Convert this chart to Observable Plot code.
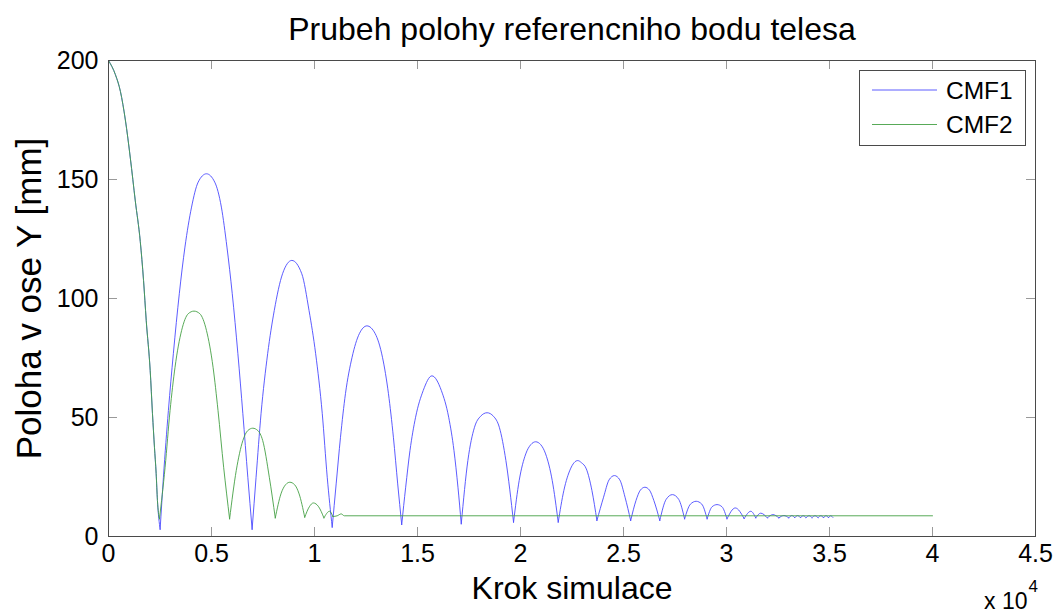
<!DOCTYPE html>
<html>
<head>
<meta charset="utf-8">
<script src="https://cdn.jsdelivr.net/npm/d3@7"></script>
<script src="https://cdn.jsdelivr.net/npm/@observablehq/plot@0.6"></script>
<style>
  html, body { margin: 0; padding: 0; background: #fff; }
</style>
</head>
<body>
<div id="chart"></div>
<script>
// ---- data ----
// common initial fall of both bodies
const fallX = [0, 337, 578, 819, 1060, 1301, 1542, 1701, 1831, 2024, 2135, 2231, 2313, 2376];
const fallY = [200, 194, 187, 175, 159, 141, 124, 107.6, 90.8, 69.7, 51.6, 37.5, 26.5, 15.1];

// CMF1 (blue) after first impact
const cmf1X = [2506, 2666, 2907, 3148, 3437, 3711, 4032, 4353, 4756, 5157, 5479, 5750, 6008, 6281, 6522, 6763, 6972,
  7164, 7405, 7726, 8048, 8449, 8900, 9382, 9734, 10056, 10377, 10618, 10859,
  11052, 11262, 11503, 11824, 12176, 12546, 12948, 13300, 13590, 13830, 14039, 14233,
  14426, 14635, 14907, 15276, 15700, 16159, 16514, 16771, 16964, 17124,
  17445, 17767, 18060, 18377, 18690, 18972, 19291, 19662,
  19936, 20255, 20500, 20738, 20980, 21219, 21541, 21831,
  22104, 22425, 22600, 22778, 22960, 23196, 23468, 23709,
  24032, 24300, 24561, 24820, 25075, 25348,
  25606, 25820, 26039, 26260, 26474, 26762,
  27070, 27374, 27680, 27966, 28250, 28528, 28800, 29059, 29300, 29541, 29780, 30023, 30425, 30856, 31179, 31420, 31661, 31983, 32253, 32542, 32783, 33025,
  33170, 33314, 33450, 33589, 33726, 33863, 34008, 34152, 34297, 34441, 34576, 34711, 34832, 34952, 35058, 35164];
const cmf1Y = [3, 24.9, 52.9, 76.8, 102, 121.6, 138.4, 148.9, 152.4, 148.9, 138.4, 121.6, 102, 76.8, 51.6, 24.9, 3,
  24.9, 51.6, 76.8, 95, 110.4, 116, 110.4, 95, 76.8, 51.6, 24.9, 3.9,
  22.1, 41.7, 60, 75.3, 85.2, 88.5, 85.2, 75.3, 60, 41.7, 22.1, 5,
  20.7, 36.1, 50.1, 61.3, 67.5, 61.3, 50.1, 36.1, 20.7, 5.3,
  31.9, 45.9, 50.5, 52, 50.5, 45.9, 31.9, 6,
  23.5, 34.7, 38.6, 39.8, 38.6, 34.7, 23.5, 6,
  19.3, 28.4, 31, 31.9, 31, 28.4, 19.3, 6.7,
  16.5, 23.8, 25.6, 23.8, 16.5, 6.7,
  15.1, 19.5, 20.7, 19.5, 15.1, 6.7,
  15.6, 17.6, 15.6, 7.4, 13.6, 14.8, 13.6, 7.4, 12.5, 13.4, 12.5, 7.4, 12, 7.5, 10.6, 7.8, 9.8, 7.8, 9.2, 7.8, 8.8, 7.8,
  8.8, 7.9, 8.8, 7.9, 8.7, 7.9, 8.7, 7.9, 8.7, 7.9, 8.7, 7.9, 8.7, 7.9, 8.7, 8];

// CMF2 (green) after first impact
const cmf2X = [2474, 2747, 2988, 3229, 3550, 3871, 4150, 4434, 4755, 5076, 5317, 5590, 5879,
  6201, 6522, 6760, 7004, 7250, 7486, 7807, 8096,
  8371, 8600, 8803, 9030, 9253, 9526,
  9750, 9944, 10200, 10458, 10730, 10891, 11100, 11296, 11450, 40000];
const cmf2Y = [7.4, 29.1, 52.9, 71.1, 86.6, 93.6, 94.7, 93.6, 86.6, 71.1, 52.9, 29.1, 7.4,
  27.7, 40.3, 44.5, 45.5, 44.5, 40.3, 24.9, 7.8,
  17.9, 21.8, 22.8, 21.8, 17.9, 8.1,
  12.5, 14.1, 12.5, 7.8, 10.6, 8.4, 8.7, 9.5, 8.7, 8.7];

const seriesNames = ["CMF1", "CMF2"];
const seriesColors = ["#4a4aff", "#45a045"];

const xTicks = [0, 5000, 10000, 15000, 20000, 25000, 30000, 35000, 40000, 45000];
const xTickLabels = ["0", "0.5", "1", "1.5", "2", "2.5", "3", "3.5", "4", "4.5"];
const yTicks = [0, 50, 100, 150, 200];

const titleText = "Prubeh polohy referencniho bodu telesa";
const xLabelText = "Krok simulace";
const yLabelText = "Poloha v ose Y [mm]";

// ---- build table: split each series into bounce arcs at its impacts ----
const rows = [];
[[cmf1X, cmf1Y], [cmf2X, cmf2Y]].forEach(([xs0, ys0], i) => {
  const xs = fallX.concat(xs0), ys = fallY.concat(ys0);
  const name = seriesNames[i];
  let seg = 0;
  xs.forEach((x, j) => {
    rows.push({series: name, seg: name + "-" + seg, x, y: ys[j]});
    const isMin = j > 0 && j < xs.length - 1 && ys[j] < ys[j - 1] && ys[j] < ys[j + 1];
    if (isMin) {
      seg++;
      rows.push({series: name, seg: name + "-" + seg, x, y: ys[j]});
    }
  });
});

// ---- layout ----
const W = 1063, H = 615;
const mL = 108, mR = 28, mT = 60, mB = 79;
const innerW = W - mL - mR, innerH = H - mT - mB;
const font = "'Liberation Sans', Arial, Helvetica, sans-serif";
const tickLen = 9;

const plot = Plot.plot({
  width: W, height: H,
  marginLeft: mL, marginRight: mR, marginTop: mT, marginBottom: mB,
  style: {fontFamily: font, background: "#fff", color: "#000", overflow: "visible"},
  x: {domain: [0, 45000]},
  y: {domain: [0, 200]},
  color: {domain: seriesNames, range: seriesColors},
  marks: [
    Plot.line(rows, {x: "x", y: "y", z: "seg", stroke: "series", strokeWidth: 0.9, curve: "monotone-x"}),
    Plot.tickX(xTicks.slice(1, -1), {x: d => d, stroke: "#999", strokeWidth: 1, insetTop: innerH - tickLen}),
    Plot.tickX(xTicks.slice(1, -1), {x: d => d, stroke: "#999", strokeWidth: 1, insetBottom: innerH - tickLen}),
    Plot.tickY(yTicks.slice(1, -1), {y: d => d, stroke: "#999", strokeWidth: 1, insetRight: innerW - tickLen}),
    Plot.tickY(yTicks.slice(1, -1), {y: d => d, stroke: "#999", strokeWidth: 1, insetLeft: innerW - tickLen}),
    Plot.frame({stroke: "#4a4a4a", strokeWidth: 1}),
    Plot.axisX(xTicks, {tickSize: 0, tickPadding: 8, label: null, fontSize: 25,
      tickFormat: d => xTickLabels[xTicks.indexOf(d)]}),
    Plot.axisY(yTicks, {tickSize: 0, tickPadding: 10, label: null, fontSize: 25}),
    Plot.text([xLabelText], {frameAnchor: "bottom", lineAnchor: "middle", dy: 52, fontSize: 32, fill: "#000"}),
    Plot.text([yLabelText], {frameAnchor: "left", textAnchor: "middle", lineAnchor: "middle", dx: -79, rotate: -90, fontSize: 35, fill: "#000"}),
    Plot.text([titleText], {frameAnchor: "top", lineAnchor: "middle", dy: -31, fontSize: 32, fill: "#000"}),
    Plot.text(["x 10"], {frameAnchor: "bottom-right", textAnchor: "end", lineAnchor: "middle", dx: -8, dy: 65, fontSize: 23, fill: "#000"}),
    Plot.text(["4"], {frameAnchor: "bottom-right", textAnchor: "start", lineAnchor: "middle", dx: -7, dy: 50, fontSize: 17, fill: "#000"})
  ]
});

// legend box (top-right, inside axes)
const svg = d3.select(plot);
const lg = svg.append("g").attr("font-family", font).attr("text-anchor", "start");
const lx = 859.5, ly = 70.5, lw = 166, lh = 75;
lg.append("rect").attr("x", lx).attr("y", ly).attr("width", lw).attr("height", lh)
  .attr("fill", "#fff").attr("stroke", "#4a4a4a").attr("stroke-width", 1);
seriesNames.forEach((name, i) => {
  const yy = 90 + i * 34.5;
  lg.append("line").attr("x1", 872).attr("x2", 937).attr("y1", yy).attr("y2", yy)
    .attr("stroke", seriesColors[i]).attr("stroke-width", 0.9);
  lg.append("text").attr("x", 946).attr("y", yy).attr("dy", "0.35em")
    .attr("font-size", 24.5).attr("fill", "#000").text(name);
});

document.getElementById("chart").appendChild(plot);
</script>
</body>
</html>
